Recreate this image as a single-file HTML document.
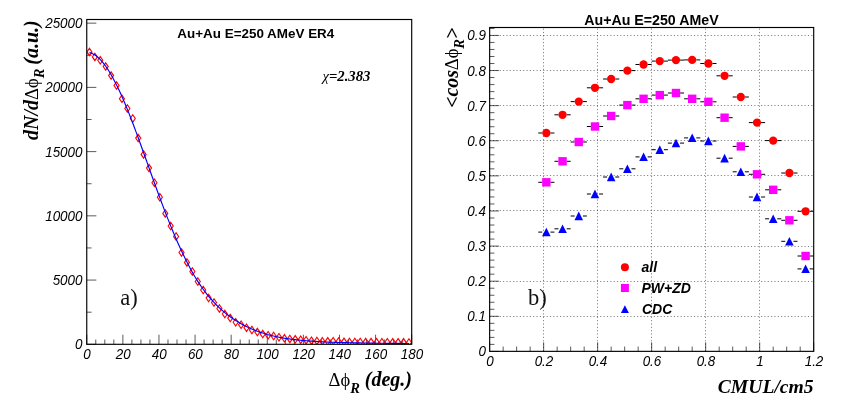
<!DOCTYPE html>
<html><head><meta charset="utf-8"><title>chart</title>
<style>html,body{margin:0;padding:0;background:#fff}body{width:847px;height:418px;overflow:hidden;font-family:"Liberation Sans",sans-serif}svg{display:block;will-change:transform}</style>
</head><body>
<svg width="847" height="418" viewBox="0 0 847 418">
<rect width="847" height="418" fill="#fff"/>
<g id="left">
<path d="M86.75 344.30V334.70M95.78 344.30V339.50M104.80 344.30V339.50M113.83 344.30V339.50M122.86 344.30V334.70M131.88 344.30V339.50M140.91 344.30V339.50M149.93 344.30V339.50M158.96 344.30V334.70M167.99 344.30V339.50M177.01 344.30V339.50M186.04 344.30V339.50M195.07 344.30V334.70M204.09 344.30V339.50M213.12 344.30V339.50M222.15 344.30V339.50M231.17 344.30V334.70M240.20 344.30V339.50M249.22 344.30V339.50M258.25 344.30V339.50M267.28 344.30V334.70M276.30 344.30V339.50M285.33 344.30V339.50M294.36 344.30V339.50M303.38 344.30V334.70M312.41 344.30V339.50M321.44 344.30V339.50M330.46 344.30V339.50M339.49 344.30V334.70M348.52 344.30V339.50M357.54 344.30V339.50M366.57 344.30V339.50M375.59 344.30V334.70M384.62 344.30V339.50M393.65 344.30V339.50M402.67 344.30V339.50M411.70 344.30V334.70M86.75 344.30H96.35M86.75 312.19H91.55M86.75 280.07H96.35M86.75 247.95H91.55M86.75 215.84H96.35M86.75 183.73H91.55M86.75 151.61H96.35M86.75 119.50H91.55M86.75 87.38H96.35M86.75 55.26H91.55M86.75 23.15H96.35" stroke="#000" stroke-width="0.65" fill="none"/>
<clipPath id="cl"><rect x="86.75" y="19.50" width="324.95" height="324.80"/></clipPath>
<g clip-path="url(#cl)"><path d="M89.46 48.20L91.96 51.90L89.46 55.60L86.96 51.90ZM94.87 53.20L97.37 56.90L94.87 60.60L92.37 56.90ZM100.29 56.60L102.79 60.30L100.29 64.00L97.79 60.30ZM105.71 62.90L108.21 66.60L105.71 70.30L103.21 66.60ZM111.12 71.90L113.62 75.60L111.12 79.30L108.62 75.60ZM116.54 81.80L119.04 85.50L116.54 89.20L114.04 85.50ZM121.95 95.05L124.45 98.75L121.95 102.45L119.45 98.75ZM127.37 104.80L129.87 108.50L127.37 112.20L124.87 108.50ZM132.78 114.80L135.28 118.50L132.78 122.20L130.28 118.50ZM138.20 134.40L140.70 138.10L138.20 141.80L135.70 138.10ZM143.62 150.70L146.12 154.40L143.62 158.10L141.12 154.40ZM149.03 164.40L151.53 168.10L149.03 171.80L146.53 168.10ZM154.45 179.05L156.95 182.75L154.45 186.45L151.95 182.75ZM159.86 193.55L162.36 197.25L159.86 200.95L157.36 197.25ZM165.28 209.70L167.78 213.40L165.28 217.10L162.78 213.40ZM170.70 222.30L173.20 226.00L170.70 229.70L168.20 226.00ZM176.11 232.80L178.61 236.50L176.11 240.20L173.61 236.50ZM181.53 248.80L184.03 252.50L181.53 256.20L179.03 252.50ZM186.94 258.70L189.44 262.40L186.94 266.10L184.44 262.40ZM192.36 267.80L194.86 271.50L192.36 275.20L189.86 271.50ZM197.77 277.80L200.27 281.50L197.77 285.20L195.27 281.50ZM203.19 286.30L205.69 290.00L203.19 293.70L200.69 290.00ZM208.61 294.40L211.11 298.10L208.61 301.80L206.11 298.10ZM214.02 298.80L216.52 302.50L214.02 306.20L211.52 302.50ZM219.44 304.80L221.94 308.50L219.44 312.20L216.94 308.50ZM224.85 310.30L227.35 314.00L224.85 317.70L222.35 314.00ZM230.27 314.40L232.77 318.10L230.27 321.80L227.77 318.10ZM235.69 318.55L238.19 322.25L235.69 325.95L233.19 322.25ZM241.10 321.05L243.60 324.75L241.10 328.45L238.60 324.75ZM246.52 324.05L249.02 327.75L246.52 331.45L244.02 327.75ZM251.93 326.30L254.43 330.00L251.93 333.70L249.43 330.00ZM257.35 328.40L259.85 332.10L257.35 335.80L254.85 332.10ZM262.76 330.40L265.26 334.10L262.76 337.80L260.26 334.10ZM268.18 331.55L270.68 335.25L268.18 338.95L265.68 335.25ZM273.60 332.30L276.10 336.00L273.60 339.70L271.10 336.00ZM279.01 333.55L281.51 337.25L279.01 340.95L276.51 337.25ZM284.43 334.60L286.93 338.30L284.43 342.00L281.93 338.30ZM289.84 335.20L292.34 338.90L289.84 342.60L287.34 338.90ZM295.26 335.65L297.76 339.35L295.26 343.05L292.76 339.35ZM300.68 336.00L303.18 339.70L300.68 343.40L298.18 339.70ZM306.09 336.50L308.59 340.20L306.09 343.90L303.59 340.20ZM311.51 336.95L314.01 340.65L311.51 344.35L309.01 340.65ZM316.92 337.20L319.42 340.90L316.92 344.60L314.42 340.90ZM322.34 337.45L324.84 341.15L322.34 344.85L319.84 341.15ZM327.75 337.65L330.25 341.35L327.75 345.05L325.25 341.35ZM333.17 337.45L335.67 341.15L333.17 344.85L330.67 341.15ZM338.59 337.75L341.09 341.45L338.59 345.15L336.09 341.45ZM344.00 338.15L346.50 341.85L344.00 345.55L341.50 341.85ZM349.42 338.20L351.92 341.90L349.42 345.60L346.92 341.90ZM354.83 338.25L357.33 341.95L354.83 345.65L352.33 341.95ZM360.25 338.29L362.75 341.99L360.25 345.69L357.75 341.99ZM365.67 338.34L368.17 342.04L365.67 345.74L363.17 342.04ZM371.08 338.38L373.58 342.08L371.08 345.78L368.58 342.08ZM376.50 338.43L379.00 342.13L376.50 345.83L374.00 342.13ZM381.91 338.47L384.41 342.17L381.91 345.87L379.41 342.17ZM387.33 338.52L389.83 342.22L387.33 345.92L384.83 342.22ZM392.74 338.56L395.24 342.26L392.74 345.96L390.24 342.26ZM398.16 338.61L400.66 342.31L398.16 346.01L395.66 342.31ZM403.58 338.65L406.08 342.35L403.58 346.05L401.08 342.35ZM408.99 338.70L411.49 342.40L408.99 346.10L406.49 342.40Z" stroke="#ff0000" stroke-width="1.15" fill="none" stroke-linejoin="miter"/>
<polyline points="89.46,52.59 90.36,52.84 91.26,53.14 92.17,53.51 93.07,53.94 93.97,54.43 94.87,54.98 95.78,55.59 96.68,56.27 97.58,57.01 98.48,57.81 99.39,58.67 100.29,59.59 101.19,60.56 102.09,61.59 103.00,62.68 103.90,63.82 104.80,65.02 105.71,66.26 106.61,67.55 107.51,68.90 108.41,70.29 109.32,71.74 110.22,73.24 111.12,74.79 112.02,76.38 112.93,78.03 113.83,79.72 114.73,81.42 115.63,83.17 116.54,84.96 117.44,86.79 118.34,88.66 119.25,90.57 120.15,92.53 121.05,94.51 121.95,96.54 122.86,98.60 123.76,100.69 124.66,102.82 125.56,104.97 126.47,107.16 127.37,109.37 128.27,111.62 129.17,113.89 130.08,116.18 130.98,118.50 131.88,120.84 132.78,123.20 133.69,125.58 134.59,127.98 135.49,130.40 136.40,132.83 137.30,135.28 138.20,137.74 139.10,140.22 140.01,142.70 140.91,145.20 141.81,147.70 142.71,150.21 143.62,152.73 144.52,155.25 145.42,157.78 146.32,160.31 147.23,162.84 148.13,165.37 149.03,167.90 149.93,170.43 150.84,172.96 151.74,175.48 152.64,178.00 153.55,180.51 154.45,183.02 155.35,185.51 156.25,188.00 157.16,190.48 158.06,192.94 158.96,195.40 159.86,197.84 160.77,200.27 161.67,202.69 162.57,205.09 163.47,207.47 164.38,209.84 165.28,212.19 166.18,214.53 167.08,216.84 167.99,219.14 168.89,221.41 169.79,223.67 170.70,225.90 171.60,228.11 172.50,230.31 173.40,232.47 174.31,234.62 175.21,236.74 176.11,238.84 177.01,240.92 177.92,242.97 178.82,244.99 179.72,246.99 180.62,248.97 181.53,250.92 182.43,252.84 183.33,254.74 184.24,256.61 185.14,258.46 186.04,260.27 186.94,262.07 187.85,263.83 188.75,265.57 189.65,267.28 190.55,268.96 191.46,270.62 192.36,272.25 193.26,273.85 194.16,275.43 195.07,276.98 195.97,278.45 196.87,279.90 197.77,281.32 198.68,282.71 199.58,284.08 200.48,285.42 201.39,286.73 202.29,288.02 203.19,289.29 204.09,290.52 205.00,291.72 205.90,292.90 206.80,294.05 207.70,295.18 208.61,296.29 209.51,297.36 210.41,298.42 211.31,299.45 212.22,300.46 213.12,301.45 214.02,302.43 214.92,303.40 215.83,304.34 216.73,305.26 217.63,306.16 218.54,307.04 219.44,307.89 220.34,308.73 221.24,309.55 222.15,310.34 223.05,311.12 223.95,311.88 224.85,312.61 225.76,313.33 226.66,314.06 227.56,314.77 228.46,315.47 229.37,316.14 230.27,316.80 231.17,317.44 232.07,318.07 232.98,318.68 233.88,319.27 234.78,319.85 235.69,320.41 236.59,320.96 237.49,321.54 238.39,322.11 239.30,322.66 240.20,323.19 241.10,323.72 242.00,324.23 242.91,324.72 243.81,325.21 244.71,325.68 245.61,326.15 246.52,326.60 247.42,327.03 248.32,327.46 249.22,327.88 250.13,328.29 251.03,328.69 251.93,329.08 252.84,329.46 253.74,329.83 254.64,330.20 255.54,330.55 256.45,330.89 257.35,331.23 258.25,331.56 259.15,331.85 260.06,332.15 260.96,332.44 261.86,332.73 262.76,333.03 263.67,333.32 264.57,333.62 265.47,333.91 266.38,334.21 267.28,334.50 268.18,334.72 269.08,334.94 269.99,335.16 270.89,335.38 271.79,335.60 272.69,335.82 273.60,336.04 274.50,336.26 275.40,336.48 276.30,336.70 277.21,336.87 278.11,337.04 279.01,337.21 279.91,337.38 280.82,337.55 281.72,337.72 282.62,337.89 283.53,338.06 284.43,338.23 285.33,338.40 286.23,338.52 287.14,338.64 288.04,338.76 288.94,338.88 289.84,339.00 290.75,339.12 291.65,339.24 292.55,339.36 293.45,339.48 294.36,339.60 295.26,339.69 296.16,339.78 297.06,339.87 297.97,339.96 298.87,340.05 299.77,340.14 300.68,340.23 301.58,340.32 302.48,340.41 303.38,340.50 304.29,340.57 305.19,340.64 306.09,340.71 306.99,340.78 307.90,340.85 308.80,340.92 309.70,340.99 310.60,341.06 311.51,341.13 312.41,341.20 313.31,341.26 314.21,341.32 315.12,341.38 316.02,341.44 316.92,341.50 317.83,341.56 318.73,341.62 319.63,341.68 320.53,341.74 321.44,341.80 322.34,341.84 323.24,341.88 324.14,341.92 325.05,341.96 325.95,342.00 326.85,342.04 327.75,342.08 328.66,342.12 329.56,342.16 330.46,342.20 331.37,342.23 332.27,342.26 333.17,342.29 334.07,342.32 334.98,342.35 335.88,342.38 336.78,342.41 337.68,342.44 338.59,342.47 339.49,342.50 340.39,342.52 341.29,342.54 342.20,342.56 343.10,342.58 344.00,342.60 344.90,342.62 345.81,342.64 346.71,342.66 347.61,342.68 348.52,342.70 349.42,342.72 350.32,342.74 351.22,342.76 352.13,342.78 353.03,342.80 353.93,342.82 354.83,342.84 355.74,342.86 356.64,342.88 357.54,342.90 358.44,342.92 359.35,342.93 360.25,342.94 361.15,342.96 362.05,342.98 362.96,342.99 363.86,343.00 364.76,343.02 365.67,343.04 366.57,343.05 367.47,343.06 368.37,343.08 369.28,343.10 370.18,343.11 371.08,343.12 371.98,343.14 372.89,343.16 373.79,343.17 374.69,343.19 375.59,343.20 376.50,343.21 377.40,343.22 378.30,343.23 379.20,343.24 380.11,343.25 381.01,343.26 381.91,343.27 382.82,343.28 383.72,343.29 384.62,343.30 385.52,343.31 386.43,343.32 387.33,343.33 388.23,343.34 389.13,343.35 390.04,343.36 390.94,343.37 391.84,343.38 392.74,343.39 393.65,343.40 394.55,343.41 395.45,343.41 396.36,343.42 397.26,343.42 398.16,343.43 399.06,343.43 399.97,343.44 400.87,343.44 401.77,343.44 402.67,343.45 403.58,343.45 404.48,343.46 405.38,343.47 406.28,343.47 407.19,343.48 408.09,343.48 408.99,343.49" stroke="#0000ff" stroke-width="1.15" fill="none"/></g>
<rect x="86.75" y="19.50" width="324.95" height="324.80" fill="none" stroke="#000" stroke-width="1.15"/>
<g font-family='"Liberation Sans", sans-serif' font-style="italic" font-size="14.6" fill="#000">
<text transform="translate(87.05,359.4) scale(0.920,1)" text-anchor="middle">0</text>
<text transform="translate(123.16,359.4) scale(0.920,1)" text-anchor="middle">20</text>
<text transform="translate(159.26,359.4) scale(0.920,1)" text-anchor="middle">40</text>
<text transform="translate(195.37,359.4) scale(0.920,1)" text-anchor="middle">60</text>
<text transform="translate(231.47,359.4) scale(0.920,1)" text-anchor="middle">80</text>
<text transform="translate(267.58,359.4) scale(0.920,1)" text-anchor="middle">100</text>
<text transform="translate(303.68,359.4) scale(0.920,1)" text-anchor="middle">120</text>
<text transform="translate(339.79,359.4) scale(0.920,1)" text-anchor="middle">140</text>
<text transform="translate(375.89,359.4) scale(0.920,1)" text-anchor="middle">160</text>
<text transform="translate(412.00,359.4) scale(0.920,1)" text-anchor="middle">180</text>
<text transform="translate(82.5,349.30) scale(0.920,1)" text-anchor="end">0</text>
<text transform="translate(82.5,285.07) scale(0.920,1)" text-anchor="end">5000</text>
<text transform="translate(82.5,220.84) scale(0.920,1)" text-anchor="end">10000</text>
<text transform="translate(82.5,156.61) scale(0.920,1)" text-anchor="end">15000</text>
<text transform="translate(82.5,92.38) scale(0.920,1)" text-anchor="end">20000</text>
<text transform="translate(82.5,28.15) scale(0.920,1)" text-anchor="end">25000</text>
</g>
<text x="177.3" y="37.9" font-family='"Liberation Sans", sans-serif' font-weight="bold" font-size="13" textLength="157" lengthAdjust="spacingAndGlyphs">Au+Au E=250 AMeV ER4</text>
<text x="322.5" y="80.9" font-family='"Liberation Serif", serif' font-weight="bold" font-style="italic" font-size="14.7"><tspan font-weight="normal" font-style="italic">χ</tspan>=2.383</text>
<text x="120.3" y="305.1" font-family='"Liberation Serif", serif' font-size="22.5" fill="#111">a)</text>
<text x="328.5" y="385.9" font-family='"Liberation Serif", serif' font-weight="bold" font-style="italic" font-size="20"><tspan font-weight="normal" font-style="normal" font-size="18.5">Δϕ</tspan><tspan font-size="14.5" dy="6.6">R</tspan><tspan dy="-6.6"> (deg.)</tspan></text>
<text transform="translate(37.8,140) rotate(-90)" letter-spacing="0" font-family='"Liberation Serif", serif' font-weight="bold" font-style="italic" font-size="20">dN/d<tspan font-weight="normal" font-style="normal" font-size="18.5">Δϕ</tspan><tspan font-size="14.5" dy="6.6">R</tspan><tspan dy="-6.6" dx="-1"> (a.u.)</tspan></text>
</g>
<g id="right">
<path d="M543.50 351.35V27.50M597.50 351.35V27.50M651.50 351.35V27.50M705.50 351.35V27.50M759.50 351.35V27.50M489.65 316.50H813.70M489.65 281.50H813.70M489.65 246.50H813.70M489.65 210.50H813.70M489.65 175.50H813.70M489.65 140.50H813.70M489.65 105.50H813.70M489.65 70.50H813.70M489.65 35.50H813.70" stroke="#000" stroke-width="0.8" stroke-dasharray="1.15 2.2" fill="none" opacity="0.62"/>
<path d="M489.65 351.35V342.35M503.15 351.35V346.55M516.65 351.35V346.55M530.16 351.35V346.55M543.66 351.35V342.35M557.16 351.35V346.55M570.66 351.35V346.55M584.16 351.35V346.55M597.67 351.35V342.35M611.17 351.35V346.55M624.67 351.35V346.55M638.17 351.35V346.55M651.67 351.35V342.35M665.18 351.35V346.55M678.68 351.35V346.55M692.18 351.35V346.55M705.68 351.35V342.35M719.18 351.35V346.55M732.69 351.35V346.55M746.19 351.35V346.55M759.69 351.35V342.35M773.19 351.35V346.55M786.69 351.35V346.55M800.20 351.35V346.55M813.70 351.35V342.35M489.65 351.42H498.95M489.65 344.40H494.45M489.65 337.38H494.45M489.65 330.35H494.45M489.65 323.33H494.45M489.65 316.31H498.95M489.65 309.29H494.45M489.65 302.27H494.45M489.65 295.24H494.45M489.65 288.22H494.45M489.65 281.20H498.95M489.65 274.18H494.45M489.65 267.16H494.45M489.65 260.13H494.45M489.65 253.11H494.45M489.65 246.09H498.95M489.65 239.07H494.45M489.65 232.05H494.45M489.65 225.02H494.45M489.65 218.00H494.45M489.65 210.98H498.95M489.65 203.96H494.45M489.65 196.94H494.45M489.65 189.91H494.45M489.65 182.89H494.45M489.65 175.87H498.95M489.65 168.85H494.45M489.65 161.83H494.45M489.65 154.80H494.45M489.65 147.78H494.45M489.65 140.76H498.95M489.65 133.74H494.45M489.65 126.72H494.45M489.65 119.69H494.45M489.65 112.67H494.45M489.65 105.65H498.95M489.65 98.63H494.45M489.65 91.61H494.45M489.65 84.58H494.45M489.65 77.56H494.45M489.65 70.54H498.95M489.65 63.52H494.45M489.65 56.50H494.45M489.65 49.47H494.45M489.65 42.45H494.45M489.65 35.43H498.95M489.65 28.41H494.45" stroke="#000" stroke-width="0.65" fill="none"/>
<clipPath id="cr"><rect x="489.65" y="27.50" width="324.05" height="323.85"/></clipPath>
<g clip-path="url(#cr)">
<path d="M538.26 133.00H542.26M550.46 133.00H554.46M554.46 114.80H558.46M566.66 114.80H570.66M570.66 101.60H574.66M582.86 101.60H586.86M586.87 87.80H590.87M599.07 87.80H603.07M603.07 79.00H607.07M615.27 79.00H619.27M619.27 70.60H623.27M631.47 70.60H635.47M635.47 64.50H639.47M647.67 64.50H651.67M651.68 61.10H655.68M663.88 61.10H667.88M667.88 60.10H671.88M680.08 60.10H684.08M684.08 59.90H688.08M696.28 59.90H700.28M700.28 63.50H704.28M712.48 63.50H716.48M716.48 75.80H720.48M728.68 75.80H732.68M732.69 97.00H736.69M744.89 97.00H748.89M748.89 122.60H752.89M761.09 122.60H765.09M765.09 140.60H769.09M777.29 140.60H781.29M781.29 173.00H785.29M793.49 173.00H797.49M797.50 211.30H801.50M809.70 211.30H813.70M538.26 182.30H542.26M550.46 182.30H554.46M554.46 161.30H558.46M566.66 161.30H570.66M570.66 142.00H574.66M582.86 142.00H586.86M586.87 126.50H590.87M599.07 126.50H603.07M603.07 116.00H607.07M615.27 116.00H619.27M619.27 105.10H623.27M631.47 105.10H635.47M635.47 98.80H639.47M647.67 98.80H651.67M651.68 95.10H655.68M663.88 95.10H667.88M667.88 93.00H671.88M680.08 93.00H684.08M684.08 98.80H688.08M696.28 98.80H700.28M700.28 101.80H704.28M712.48 101.80H716.48M716.48 117.70H720.48M728.68 117.70H732.68M732.69 146.40H736.69M744.89 146.40H748.89M748.89 174.30H752.89M761.09 174.30H765.09M765.09 189.80H769.09M777.29 189.80H781.29M781.29 220.30H785.29M793.49 220.30H797.49M797.50 256.00H801.50M809.70 256.00H813.70M538.26 232.10H542.26M550.46 232.10H554.46M554.46 228.80H558.46M566.66 228.80H570.66M570.66 216.00H574.66M582.86 216.00H586.86M586.87 194.00H590.87M599.07 194.00H603.07M603.07 177.00H607.07M615.27 177.00H619.27M619.27 168.80H623.27M631.47 168.80H635.47M635.47 156.90H639.47M647.67 156.90H651.67M651.68 149.70H655.68M663.88 149.70H667.88M667.88 143.10H671.88M680.08 143.10H684.08M684.08 137.90H688.08M696.28 137.90H700.28M700.28 141.00H704.28M712.48 141.00H716.48M716.48 158.20H720.48M728.68 158.20H732.68M732.69 171.80H736.69M744.89 171.80H748.89M748.89 197.00H752.89M761.09 197.00H765.09M765.09 218.80H769.09M777.29 218.80H781.29M781.29 241.30H785.29M793.49 241.30H797.49M797.50 268.90H801.50M809.70 268.90H813.70" stroke="#000" stroke-width="1" fill="none"/>
<circle cx="546.36" cy="133.00" r="4.15" fill="#ff0000"/>
<circle cx="562.56" cy="114.80" r="4.15" fill="#ff0000"/>
<circle cx="578.76" cy="101.60" r="4.15" fill="#ff0000"/>
<circle cx="594.97" cy="87.80" r="4.15" fill="#ff0000"/>
<circle cx="611.17" cy="79.00" r="4.15" fill="#ff0000"/>
<circle cx="627.37" cy="70.60" r="4.15" fill="#ff0000"/>
<circle cx="643.57" cy="64.50" r="4.15" fill="#ff0000"/>
<circle cx="659.78" cy="61.10" r="4.15" fill="#ff0000"/>
<circle cx="675.98" cy="60.10" r="4.15" fill="#ff0000"/>
<circle cx="692.18" cy="59.90" r="4.15" fill="#ff0000"/>
<circle cx="708.38" cy="63.50" r="4.15" fill="#ff0000"/>
<circle cx="724.58" cy="75.80" r="4.15" fill="#ff0000"/>
<circle cx="740.79" cy="97.00" r="4.15" fill="#ff0000"/>
<circle cx="756.99" cy="122.60" r="4.15" fill="#ff0000"/>
<circle cx="773.19" cy="140.60" r="4.15" fill="#ff0000"/>
<circle cx="789.39" cy="173.00" r="4.15" fill="#ff0000"/>
<circle cx="805.60" cy="211.30" r="4.15" fill="#ff0000"/>
<rect x="542.16" y="178.10" width="8.4" height="8.4" fill="#ff00ff"/>
<rect x="558.36" y="157.10" width="8.4" height="8.4" fill="#ff00ff"/>
<rect x="574.56" y="137.80" width="8.4" height="8.4" fill="#ff00ff"/>
<rect x="590.77" y="122.30" width="8.4" height="8.4" fill="#ff00ff"/>
<rect x="606.97" y="111.80" width="8.4" height="8.4" fill="#ff00ff"/>
<rect x="623.17" y="100.90" width="8.4" height="8.4" fill="#ff00ff"/>
<rect x="639.37" y="94.60" width="8.4" height="8.4" fill="#ff00ff"/>
<rect x="655.58" y="90.90" width="8.4" height="8.4" fill="#ff00ff"/>
<rect x="671.78" y="88.80" width="8.4" height="8.4" fill="#ff00ff"/>
<rect x="687.98" y="94.60" width="8.4" height="8.4" fill="#ff00ff"/>
<rect x="704.18" y="97.60" width="8.4" height="8.4" fill="#ff00ff"/>
<rect x="720.38" y="113.50" width="8.4" height="8.4" fill="#ff00ff"/>
<rect x="736.59" y="142.20" width="8.4" height="8.4" fill="#ff00ff"/>
<rect x="752.79" y="170.10" width="8.4" height="8.4" fill="#ff00ff"/>
<rect x="768.99" y="185.60" width="8.4" height="8.4" fill="#ff00ff"/>
<rect x="785.19" y="216.10" width="8.4" height="8.4" fill="#ff00ff"/>
<rect x="801.40" y="251.80" width="8.4" height="8.4" fill="#ff00ff"/>
<path d="M546.36 227.70L550.66 236.30L542.06 236.30Z" fill="#0000ff"/>
<path d="M562.56 224.40L566.86 233.00L558.26 233.00Z" fill="#0000ff"/>
<path d="M578.76 211.60L583.06 220.20L574.46 220.20Z" fill="#0000ff"/>
<path d="M594.97 189.60L599.27 198.20L590.67 198.20Z" fill="#0000ff"/>
<path d="M611.17 172.60L615.47 181.20L606.87 181.20Z" fill="#0000ff"/>
<path d="M627.37 164.40L631.67 173.00L623.07 173.00Z" fill="#0000ff"/>
<path d="M643.57 152.50L647.87 161.10L639.27 161.10Z" fill="#0000ff"/>
<path d="M659.78 145.30L664.08 153.90L655.48 153.90Z" fill="#0000ff"/>
<path d="M675.98 138.70L680.28 147.30L671.68 147.30Z" fill="#0000ff"/>
<path d="M692.18 133.50L696.48 142.10L687.88 142.10Z" fill="#0000ff"/>
<path d="M708.38 136.60L712.68 145.20L704.08 145.20Z" fill="#0000ff"/>
<path d="M724.58 153.80L728.88 162.40L720.28 162.40Z" fill="#0000ff"/>
<path d="M740.79 167.40L745.09 176.00L736.49 176.00Z" fill="#0000ff"/>
<path d="M756.99 192.60L761.29 201.20L752.69 201.20Z" fill="#0000ff"/>
<path d="M773.19 214.40L777.49 223.00L768.89 223.00Z" fill="#0000ff"/>
<path d="M789.39 236.90L793.69 245.50L785.09 245.50Z" fill="#0000ff"/>
<path d="M805.60 264.50L809.90 273.10L801.30 273.10Z" fill="#0000ff"/>
</g>
<circle cx="624.9" cy="267.2" r="4" fill="#ff0000"/>
<rect x="620.9" y="284" width="8" height="8" fill="#ff00ff"/>
<path d="M624.9 305.2L628.9 313.1L620.9 313.1Z" fill="#0000ff"/>
<g font-family='"Liberation Sans", sans-serif' font-weight="bold" font-style="italic" font-size="14" fill="#000">
<text x="641.5" y="272.2">all</text>
<text x="641.5" y="293">PW+ZD</text>
<text x="642" y="314">CDC</text>
</g>
<rect x="489.65" y="27.50" width="324.05" height="323.85" fill="none" stroke="#000" stroke-width="1.15"/>
<g font-family='"Liberation Sans", sans-serif' font-style="italic" font-size="14.6" fill="#000">
<text transform="translate(489.95,366.0) scale(0.920,1)" text-anchor="middle">0</text>
<text transform="translate(543.96,366.0) scale(0.920,1)" text-anchor="middle">0.2</text>
<text transform="translate(597.97,366.0) scale(0.920,1)" text-anchor="middle">0.4</text>
<text transform="translate(651.97,366.0) scale(0.920,1)" text-anchor="middle">0.6</text>
<text transform="translate(705.98,366.0) scale(0.920,1)" text-anchor="middle">0.8</text>
<text transform="translate(759.99,366.0) scale(0.920,1)" text-anchor="middle">1</text>
<text transform="translate(814.00,366.0) scale(0.920,1)" text-anchor="middle">1.2</text>
<text transform="translate(485.9,356.42) scale(0.920,1)" text-anchor="end">0</text>
<text transform="translate(485.9,321.31) scale(0.920,1)" text-anchor="end">0.1</text>
<text transform="translate(485.9,286.20) scale(0.920,1)" text-anchor="end">0.2</text>
<text transform="translate(485.9,251.09) scale(0.920,1)" text-anchor="end">0.3</text>
<text transform="translate(485.9,215.98) scale(0.920,1)" text-anchor="end">0.4</text>
<text transform="translate(485.9,180.87) scale(0.920,1)" text-anchor="end">0.5</text>
<text transform="translate(485.9,145.76) scale(0.920,1)" text-anchor="end">0.6</text>
<text transform="translate(485.9,110.65) scale(0.920,1)" text-anchor="end">0.7</text>
<text transform="translate(485.9,75.54) scale(0.920,1)" text-anchor="end">0.8</text>
<text transform="translate(485.9,40.43) scale(0.920,1)" text-anchor="end">0.9</text>
</g>
<text x="584.3" y="24.7" font-family='"Liberation Sans", sans-serif' font-weight="bold" font-size="14" textLength="134.3" lengthAdjust="spacingAndGlyphs">Au+Au E=250 AMeV</text>
<text x="528" y="305.1" font-family='"Liberation Serif", serif' font-size="22.5" fill="#111">b)</text>
<text x="813.6" y="392.9" text-anchor="end" font-family='"Liberation Serif", serif' font-weight="bold" font-style="italic" font-size="19.6">CMUL/cm5</text>
<text transform="translate(458.2,107.8) rotate(-90)" letter-spacing="-0.1" font-family='"Liberation Serif", serif' font-weight="bold" font-style="italic" font-size="20"><tspan dy="1.2">&lt;</tspan><tspan dy="-1.2">cos</tspan><tspan font-weight="normal" font-style="normal" font-size="18.5">Δϕ</tspan><tspan font-size="14.5" dy="5.8">R</tspan><tspan dy="-4.6">&gt;</tspan></text>
</g>
</svg>
</body></html>
